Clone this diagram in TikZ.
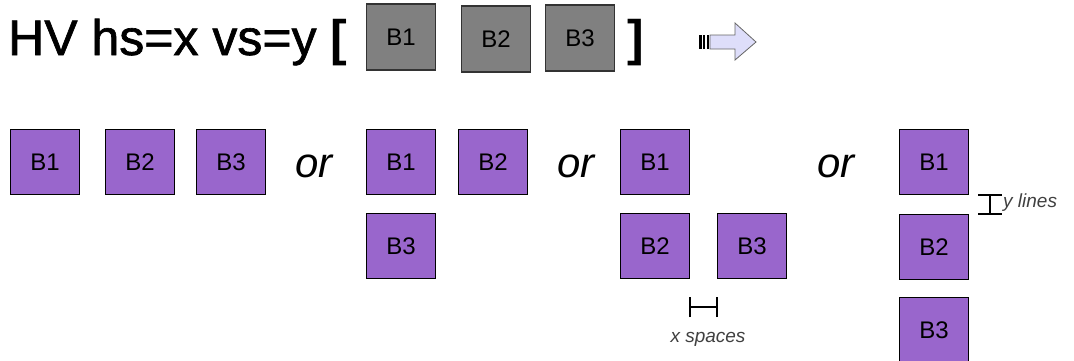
\documentclass[tikz,border=0pt]{standalone}
\usepackage{fontspec}
\setmainfont{Liberation Sans}
\newfontfamily\titlefont[FakeBold=1.3]{Liberation Sans}
\begin{document}
\begin{tikzpicture}[x=1pt,y=-1pt,
  purplebox/.style={draw=black,fill=boxpurple,line width=1.1pt,minimum width=69pt,minimum height=65pt,inner sep=0pt,font=\fontsize{24}{26}\selectfont},
  graybox/.style={draw=black!80,fill=boxgray,line width=1.1pt,minimum width=69pt,minimum height=66pt,inner sep=0pt,font=\fontsize{24}{26}\selectfont},
  ortext/.style={anchor=base,inner sep=0pt,font=\fontsize{42}{46}\selectfont\itshape},
  notetext/.style={inner sep=0pt,text=black!75,font=\fontsize{19}{21}\selectfont\itshape},
  marker/.style={line width=1.6pt,black}
]
\definecolor{boxpurple}{RGB}{153,102,204}
\definecolor{boxgray}{RGB}{128,128,128}
\definecolor{arrowfill}{RGB}{222,222,250}
\useasboundingbox (0,0) rectangle (1074,360);

% title
\node[anchor=base west,inner sep=0pt,font=\titlefont\fontsize{50}{56}\selectfont] (title) at (8,55) {HV hs=x vs=y};
\node[anchor=base west,inner sep=0pt,font=\fontsize{50}{56}\selectfont\bfseries] (lbr) at (330,55) {[};
\node[anchor=base west,inner sep=0pt,font=\fontsize{50}{56}\selectfont\bfseries] (rbr) at (627,55) {]};
\node[graybox] (g1) at (401,37) {B1};
\node[graybox] (g2) at (496,39) {B2};
\node[graybox] (g3) at (580,38) {B3};

% arrow
\draw[line width=2.2pt] (700.5,35) -- (700.5,49) (704.3,35) -- (704.3,49) (708,35) -- (708,49);
\draw[draw=black!60,fill=arrowfill,line width=0.8pt] (710,35) -- (735,35) -- (735,23) -- (756,42) -- (735,60) -- (735,49) -- (710,49) -- cycle;

% group 1
\node[purplebox] (a1) at (45,162) {B1};
\node[purplebox] (a2) at (140,162) {B2};
\node[purplebox] (a3) at (231,162) {B3};
\node[ortext] (or1) at (314,177) {or};

% group 2
\node[purplebox] (b1) at (401,162) {B1};
\node[purplebox] (b2) at (493,162) {B2};
\node[purplebox] (b3) at (401,246) {B3};
\node[ortext] (or2) at (576,177) {or};

% group 3
\node[purplebox] (c1) at (655,162) {B1};
\node[purplebox] (c2) at (655,246) {B2};
\node[purplebox] (c3) at (752,246) {B3};
\node[ortext] (or3) at (836,177) {or};

% x spaces marker
\coordinate (xrow) at (0,307);
\coordinate (xl) at (c2.east |- xrow);
\coordinate (xr) at (c3.west |- xrow);
\draw[marker] (xl) -- (xr);
\draw[marker] ([yshift=-10pt]xl) -- ([yshift=10pt]xl);
\draw[marker] ([yshift=-10pt]xr) -- ([yshift=10pt]xr);
\node[notetext] (xs) at (708,339) {x spaces};

% group 4
\node[purplebox] (d1) at (934,162) {B1};
\node[purplebox] (d2) at (934,247) {B2};
\node[purplebox] (d3) at (934,330) {B3};

% y lines marker
\coordinate (ycol) at (990,0);
\coordinate (yt) at (d1.south -| ycol);
\coordinate (yb) at (d2.north -| ycol);
\draw[marker] (yt) -- (yb);
\draw[marker] ([xshift=-12pt]yt) -- ([xshift=12pt]yt);
\draw[marker] ([xshift=-12pt]yb) -- ([xshift=12pt]yb);
\node[notetext,anchor=west] (yl) at (1003,203) {y lines};
\end{tikzpicture}
\end{document}
